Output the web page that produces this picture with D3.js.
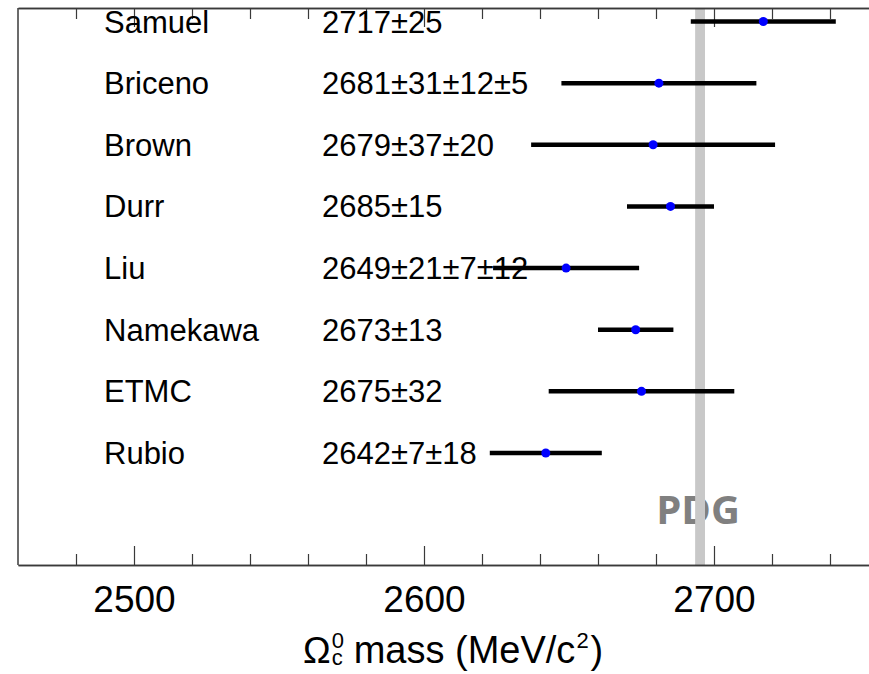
<!DOCTYPE html>
<html>
<head>
<meta charset="utf-8">
<script src="https://cdn.jsdelivr.net/npm/d3@7"></script>
<style>
  body { margin: 0; background: #fff; }
  svg { display: block; }
</style>
</head>
<body>
<div id="chart"></div>
<script>
// lattice results for the Omega_c^0 mass
const names = ["Samuel", "Briceno", "Brown", "Durr", "Liu", "Namekawa", "ETMC", "Rubio"];
const labels = ["2717\u00b125", "2681\u00b131\u00b112\u00b15", "2679\u00b137\u00b120", "2685\u00b115",
  "2649\u00b121\u00b17\u00b112", "2673\u00b113", "2675\u00b132", "2642\u00b17\u00b118"];
const masses = [2717, 2681, 2679, 2685, 2649, 2673, 2675, 2642];
const errors = [[25], [31, 12, 5], [37, 20], [15], [21, 7, 12], [13], [32], [7, 18]];
const pdgMass = 2695.2;
const pdgErr = 1.7;
const majorTicks = [2500, 2600, 2700];
const minorTicks = [2480, 2520, 2540, 2560, 2580, 2620, 2640, 2660, 2680, 2720, 2740];

const W = 869, H = 674;
const frame = { left: 18, right: 869, top: 8, bottom: 565 };

const svg = d3.select("#chart").append("svg")
  .attr("width", W).attr("height", H);

const x = d3.scaleLinear().domain([2460, 2753.45]).range([frame.left, frame.right]);
const y = d3.scaleLinear().domain([0, 7]).range([21.5, 453]);

const font = "'Liberation Sans', Arial, Helvetica, sans-serif";

// PDG text (band drawn over it)
svg.append("text")
  .attr("x", x(pdgMass) - 2)
  .attr("y", y(8) + 9)
  .attr("text-anchor", "middle")
  .attr("font-family", "'Open Sans', 'Noto Sans', sans-serif")
  .attr("font-weight", "bold")
  .attr("font-size", 40)
  .attr("fill", "#808080")
  .text("PDG");

// PDG band
svg.append("rect")
  .attr("x", x(pdgMass - pdgErr))
  .attr("y", frame.top)
  .attr("width", x(pdgMass + pdgErr) - x(pdgMass - pdgErr))
  .attr("height", frame.bottom - frame.top)
  .attr("fill", "#c8c8c8");

// axes
const axisColor = "#3a3a3a";
function styleAxis(g) {
  g.select(".domain").attr("stroke", axisColor).attr("stroke-width", 1.5);
  g.selectAll(".tick line").attr("stroke", axisColor).attr("stroke-width", 1.2);
}

const xAxis = svg.append("g")
  .attr("transform", `translate(0,${frame.bottom})`)
  .call(d3.axisBottom(x).tickValues(majorTicks).tickSizeInner(-19).tickSizeOuter(0)
    .tickPadding(21).tickFormat(d3.format("d")))
  .call(styleAxis);
xAxis.selectAll(".tick text")
  .attr("font-family", font).attr("font-size", 37).attr("fill", "#000");

svg.append("g")
  .attr("transform", `translate(0,${frame.bottom})`)
  .call(d3.axisBottom(x).tickValues(minorTicks).tickSizeInner(-11).tickSizeOuter(0).tickFormat(""))
  .call(styleAxis);

svg.append("g")
  .attr("transform", `translate(0,${frame.top})`)
  .call(d3.axisTop(x).tickValues(majorTicks).tickSizeInner(-19).tickSizeOuter(0).tickFormat(""))
  .call(styleAxis);
svg.append("g")
  .attr("transform", `translate(0,${frame.top})`)
  .call(d3.axisTop(x).tickValues(minorTicks).tickSizeInner(-11).tickSizeOuter(0).tickFormat(""))
  .call(styleAxis);

// left frame
svg.append("line")
  .attr("x1", frame.left).attr("x2", frame.left)
  .attr("y1", frame.top).attr("y2", frame.bottom)
  .attr("stroke", axisColor).attr("stroke-width", 1.5);

// names and values
svg.selectAll(".name")
  .data(names)
  .enter().append("text")
  .attr("class", "name")
  .attr("x", 104)
  .attr("y", (d, i) => y(i) + 11)
  .attr("font-family", font).attr("font-size", 31)
  .text(d => d);

svg.selectAll(".val")
  .data(labels)
  .enter().append("text")
  .attr("class", "val")
  .attr("x", 322)
  .attr("y", (d, i) => y(i) + 11)
  .attr("font-family", font).attr("font-size", 31)
  .text(d => d);

// error bars (total error in quadrature)
const totalErr = errors.map(e => Math.sqrt(d3.sum(e, v => v * v)));

svg.selectAll(".bar")
  .data(masses)
  .enter().append("line")
  .attr("class", "bar")
  .attr("x1", (d, i) => x(d - totalErr[i]))
  .attr("x2", (d, i) => x(d + totalErr[i]))
  .attr("y1", (d, i) => y(i))
  .attr("y2", (d, i) => y(i))
  .attr("stroke", "#000")
  .attr("stroke-width", 4.5);

svg.selectAll(".pt")
  .data(masses)
  .enter().append("circle")
  .attr("class", "pt")
  .attr("cx", d => x(d))
  .attr("cy", (d, i) => y(i))
  .attr("r", 4.5)
  .attr("fill", "#0000ff");

// axis title: Omega_c^0 mass (MeV/c^2)
const title = svg.append("g").attr("font-family", font).attr("fill", "#000");
const tx = 303, ty = 663;
const omega = title.append("text").attr("x", tx).attr("y", ty).attr("font-size", 37).text("\u03a9");
const ow = omega.node().getComputedTextLength();
const sub = title.append("text").attr("x", tx + ow + 1).attr("y", ty + 2).attr("font-size", 22).text("c");
title.append("text").attr("x", tx + ow + 1).attr("y", ty - 15).attr("font-size", 22).text("0");
const cw = sub.node().getComputedTextLength();
const mx = tx + ow + cw + 12;
const rest = title.append("text").attr("x", mx).attr("y", ty).attr("font-size", 38)
  .text("mass (MeV/c");
const rw = rest.node().getComputedTextLength();
title.append("text").attr("x", mx + rw + 1).attr("y", ty - 15).attr("font-size", 22).text("2");
title.append("text").attr("x", mx + rw + 15).attr("y", ty).attr("font-size", 38).text(")");
</script>
</body>
</html>
